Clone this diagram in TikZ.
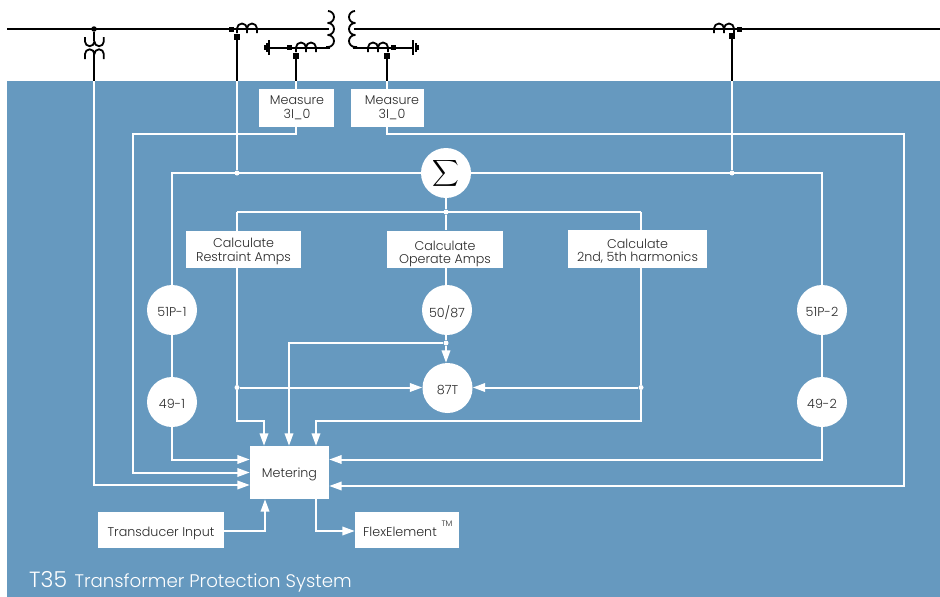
\documentclass[tikz,border=0pt]{standalone}
\usepackage{fontspec}
\setmainfont{Poppins}[UprightFont=* Light]
\usetikzlibrary{arrows.meta,calc}
\definecolor{panel}{HTML}{6699BF}
\definecolor{txt}{HTML}{2B2B2B}
\newcommand{\tx}[2][6.9]{\raisebox{-#1pt}[0pt][0pt]{\begin{tabular}[c]{@{}c@{}}#2\end{tabular}}}
\tikzset{
  x=1pt,y=-1pt,
  wbox/.style={fill=white,draw=none,inner sep=0pt,text=txt,font=\fontsize{12.7}{13}\selectfont},
  lbl/.style={inner sep=0pt,text=txt,font=\fontsize{12.7}{13}\selectfont},
  relay/.style={circle,fill=white,draw=none,minimum size=50pt,inner sep=0pt,text=txt,font=\fontsize{12.7}{13}\selectfont},
  wline/.style={draw=white,line width=2pt,line join=miter},
  warrow/.style={wline,-{Triangle[length=12.5pt,width=8.5pt,fill=white]}},
  bline/.style={draw=black,line width=2pt},
  bthick/.style={draw=black,line width=2.6pt},
  coil/.style={draw=black,line width=1.8pt,line join=round},
  sq/.style={fill=black,draw=none,minimum size=5.5pt,inner sep=0pt},
  jdot/.style={circle,fill=white,draw=none,minimum size=5pt,inner sep=0pt},
  bdot/.style={circle,fill=black,draw=none,minimum size=5.5pt,inner sep=0pt},
}
\begin{document}
\begin{tikzpicture}
\useasboundingbox (0,0) rectangle (940,597);
\fill[panel] (7,81) rectangle (940,597);

% --- power system (black) ---
\coordinate (busL) at (7,29);
\coordinate (busR) at (940,29);
\coordinate (txL) at (329,29);
\coordinate (txR) at (354,29);
\coordinate (gndL) at (269,47.5);
\coordinate (gndR) at (413,47.5);
\coordinate (wL) at (330,47.5);
\coordinate (wR) at (353,47.5);
\coordinate (top1) at (94,81);
\coordinate (top2) at (237,81);
\coordinate (top3) at (296,81);
\coordinate (top4) at (387,81);
\coordinate (top5) at (732,81);
\node[bdot] (vtd) at (94,29) {};
\node[sq] (s1a) at (231.5,29.5) {};
\node[sq] (s1b) at (237,37) {};
\node[sq] (s2a) at (289.5,47.5) {};
\node[sq] (s2b) at (296,56) {};
\node[sq] (s3a) at (393.5,47.5) {};
\node[sq] (s3b) at (387,56) {};
\node[sq] (s4a) at (739.5,29.5) {};
\node[sq] (s4b) at (732,36) {};

\draw[bline] (busL) -- (txL);
\draw[bline] (txR) -- (busR);
\draw[bline] (gndL) -- (wL);
\draw[bline] (wR) -- (gndR);
\draw[bthick] (s1b) -- (top2);
\draw[bline] (s2b) -- (top3);
\draw[bline] (s3b) -- (top4);
\draw[bline] (s4b) -- (top5);
\draw[bline] (vtd) -- (94,41);
\draw[bline] (94,51) -- (top1);

% CT arches
\foreach \x/\y in {237/33,296/52,368/52,714/33}{
  \draw[coil] (\x,\y) -- ++(0,-4.5) arc[start angle=180,end angle=360,radius=5] -- ++(0,4.5)
              ++(0,-4.5) arc[start angle=180,end angle=360,radius=5] -- ++(0,4.5);
}
% transformer windings
\draw[coil] (328,11) arc[start angle=-90,end angle=90,radius=6] arc[start angle=-90,end angle=90,radius=6] arc[start angle=-90,end angle=90,radius=6] -- (326,47);
\draw[coil] (355,11) arc[start angle=270,end angle=90,radius=6] arc[start angle=270,end angle=90,radius=6] arc[start angle=270,end angle=90,radius=6] -- (357,47);
% grounds
\draw[bline] (269,40) -- (269,55);
\draw[bline] (266.5,43) -- (266.5,52);
\draw[bline] (264.5,45) -- (264.5,50);
\draw[bline] (413,40) -- (413,55);
\draw[bline] (415.5,43) -- (415.5,52);
\draw[bline] (417.5,45) -- (417.5,50);
% voltage transformer
\draw[coil] (85,37) -- (85,41.5) arc[start angle=180,end angle=0,radius=4.7] arc[start angle=180,end angle=0,radius=4.7] -- (103.8,37);
\draw[coil] (85,59) -- (85,54) arc[start angle=180,end angle=360,radius=4.7] arc[start angle=180,end angle=360,radius=4.7] -- (103.8,59);

% --- nodes ---
\node[wbox,minimum width=75pt,minimum height=38pt] (mA) at (296.5,108) {};
\node[wbox,minimum width=73pt,minimum height=38pt] (mB) at (387.5,108) {};
\node[lbl] (mAt) at (297,108) {\tx[3.9]{Measure\\3I\_0}};
\node[lbl] (mBt) at (392,108) {\tx[3.9]{Measure\\3I\_0}};
\node[relay] (sum) at (446,173) {\textcolor{black}{\scalebox{1.85}{$\displaystyle\sum$}}};
\node[wbox,minimum width=115pt,minimum height=37pt] (cR) at (243.5,249.5) {\tx[5.1]{Calculate\\Restraint Amps}};
\node[wbox,minimum width=116pt,minimum height=37pt] (cO) at (445,249) {\tx[7.9]{Calculate\\Operate Amps}};
\node[wbox,minimum width=139pt,minimum height=38pt] (cH) at (637.5,249) {\tx[6.4]{Calculate\\2nd, 5th harmonics}};
\node[relay] (p1) at (172,310) {\tx{51P-1}};
\node[relay] (t1) at (172,402) {\tx{49-1}};
\node[relay] (p2) at (822,310) {\tx{51P-2}};
\node[relay] (t2) at (822,402) {\tx{49-2}};
\node[relay] (i50) at (447,310) {\tx{50/87}};
\node[relay] (d87) at (447.5,388) {\tx{87T}};
\node[wbox,minimum width=79pt,minimum height=53pt] (met) at (289.5,472.5) {\tx[5.5]{Metering}};
\node[wbox,minimum width=126pt,minimum height=36pt] (tra) at (161,530) {\tx{Transducer Input}};
\node[wbox,minimum width=104pt,minimum height=36pt] (flx) at (407,530) {};
\node[lbl] (flxt) at (400,530) {\tx{FlexElement}};
\node[lbl,font=\fontsize{8}{9}\selectfont] (tm) at (447,523.5) {TM};
\node[inner sep=0pt,anchor=base west,text=white,font=\fontsize{22}{24}\selectfont] (title) at (29,587) {T35\hspace{7.5pt}\fontsize{18.2}{20}\selectfont Transformer Protection System};

% junctions
\coordinate (jL) at (237,212);
\coordinate (jR) at (641,212);
\node[jdot] at (237,173) (dSL) {};
\node[jdot] at (732,173) (dSR) {};
\node[jdot] at (446,212) (dtop) {};
\node[jdot] at (237,387.5) (dRes) {};
\node[jdot] at (641,387.5) (dHar) {};
\node[jdot] at (446,343) (dOp) {};

% --- white signal lines ---
\draw[wline] (top2) -- (dSL);
\draw[wline] (top3) -- (mA.north -| top3);
\draw[wline] (top4) -- (mB.north -| top4);
\draw[wline] (top5) -- (dSR);
\draw[warrow] (top1) |- (met.west |- 0,485);
\draw[warrow] (mA.south -| top3) |- (133,134) |- (met.west |- 0,472.5);
\draw[warrow] (mB.south -| top4) |- (904,134) |- (met.east |- 0,486);
\draw[wline] (p1) |- (sum);
\draw[wline] (p2) |- (sum);
\draw[wline] (p1) -- (t1);
\draw[wline] (p2) -- (t2);
\draw[warrow] (t1) |- (met.west |- 0,459.5);
\draw[warrow] (t2) |- (met.east |- 0,459.5);
\draw[wline] (sum) -- (dtop);
\draw[wline] (jL) -- (jR);
\draw[wline] (jL) -- (cR.north -| jL);
\draw[wline] (jR) -- (cH.north -| jR);
\draw[wline] (dtop) -- (cO.north -| dtop);
\draw[wline] (cO.south -| dtop) -- (i50.north -| dtop);
\draw[wline] (i50.south -| dtop) -- (dOp);
\draw[warrow] (dOp) -- (dOp |- d87.north);
\draw[warrow] (dOp) -| (met.north -| 289,0);
\draw[wline] (cR.south -| jL) -- (dRes);
\draw[warrow] (dRes) -- (d87.west |- dRes);
\draw[wline] (cH.south -| jR) -- (dHar);
\draw[warrow] (dHar) -- (d87.east |- dHar);
\draw[warrow] (dRes) |- (264,421) -- (met.north -| 264,0);
\draw[warrow] (dHar) |- (316,421) -- (met.north -| 316,0);
\draw[warrow] (tra.east |- 0,531) -| (met.south -| 265,0);
\draw[warrow] (met.south -| 316,0) |- (flx.west |- 0,531);
\end{tikzpicture}
\end{document}
